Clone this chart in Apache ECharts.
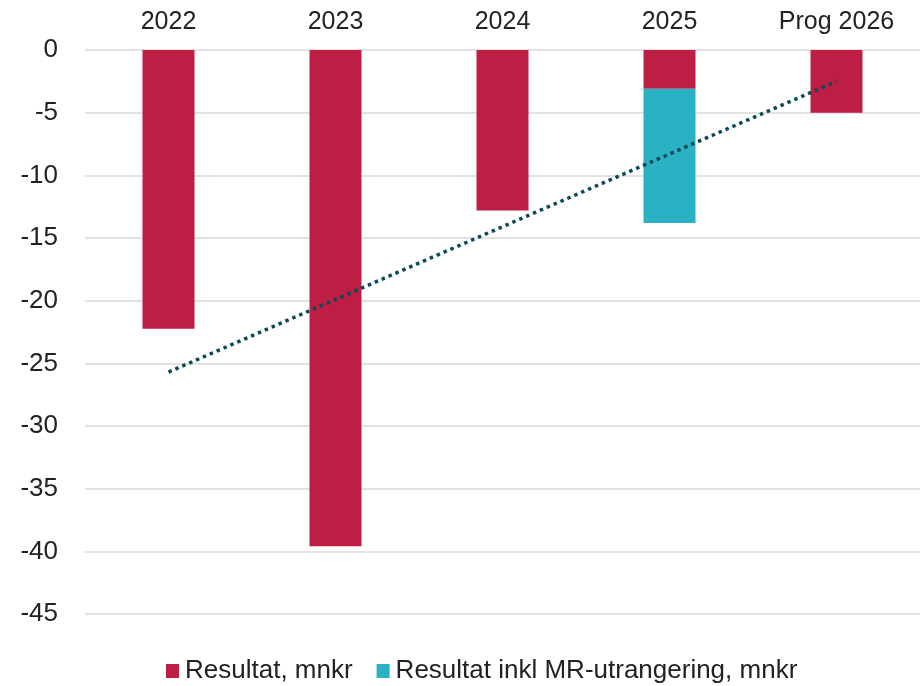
<!DOCTYPE html>
<html>
<head>
<meta charset="utf-8">
<script src="https://cdn.jsdelivr.net/npm/echarts@6/dist/echarts.min.js"></script>
<style>
html,body{margin:0;padding:0;background:#fff;}
#chart{width:920px;height:686px;}
</style>
</head>
<body>
<div id="chart"></div>
<script>
const categories = ['2022', '2023', '2024', '2025', 'Prog 2026'];
const resultat = [-22.25, -39.6, -12.8, -3.1, -5.0];
const resultatMR = [null, null, null, -10.7, null];
const trend = [-25.7, -19.9, -14.1, -8.3, -2.5];
const yTicks = { min: -45, max: 0, interval: 5 };

const chart = echarts.init(document.getElementById('chart'));
const font = 'Liberation Sans, Arial, sans-serif';
chart.setOption({
  animation: false,
  backgroundColor: '#ffffff',
  grid: { left: 85, top: 50, width: 845, height: 564 },
  xAxis: {
    type: 'category',
    position: 'top',
    data: categories,
    axisLine: { show: false },
    axisTick: { show: false },
    axisLabel: { color: '#222', fontSize: 25, fontFamily: font, margin: 15 }
  },
  yAxis: {
    type: 'value',
    min: yTicks.min, max: yTicks.max, interval: yTicks.interval,
    axisLine: { show: false },
    axisTick: { show: false },
    axisLabel: { color: '#222', fontSize: 26, fontFamily: font, margin: 27 },
    splitLine: { lineStyle: { color: '#d9d9d9', width: 1.5 } }
  },
  legend: {
    left: 161, top: 653,
    itemWidth: 13, itemHeight: 14, itemGap: 24,
    icon: 'rect',
    textStyle: { color: '#222', fontSize: 26, fontFamily: font, padding: [0, 0, 0, 1] },
    data: ['Resultat, mnkr', 'Resultat inkl MR-utrangering, mnkr']
  },
  series: [
    {
      name: 'Resultat, mnkr', type: 'bar', stack: 'a', barWidth: 52,
      itemStyle: { color: '#BE1E44' },
      data: resultat
    },
    {
      name: 'Resultat inkl MR-utrangering, mnkr', type: 'bar', stack: 'a', barWidth: 52,
      itemStyle: { color: '#2AB1C4' },
      data: resultatMR
    },
    {
      name: 'Trend', type: 'line', symbol: 'none', z: 5,
      lineStyle: { color: '#0A4A58', width: 3.5, type: [3.5, 4] },
      data: trend
    }
  ]
});
</script>
</body>
</html>
